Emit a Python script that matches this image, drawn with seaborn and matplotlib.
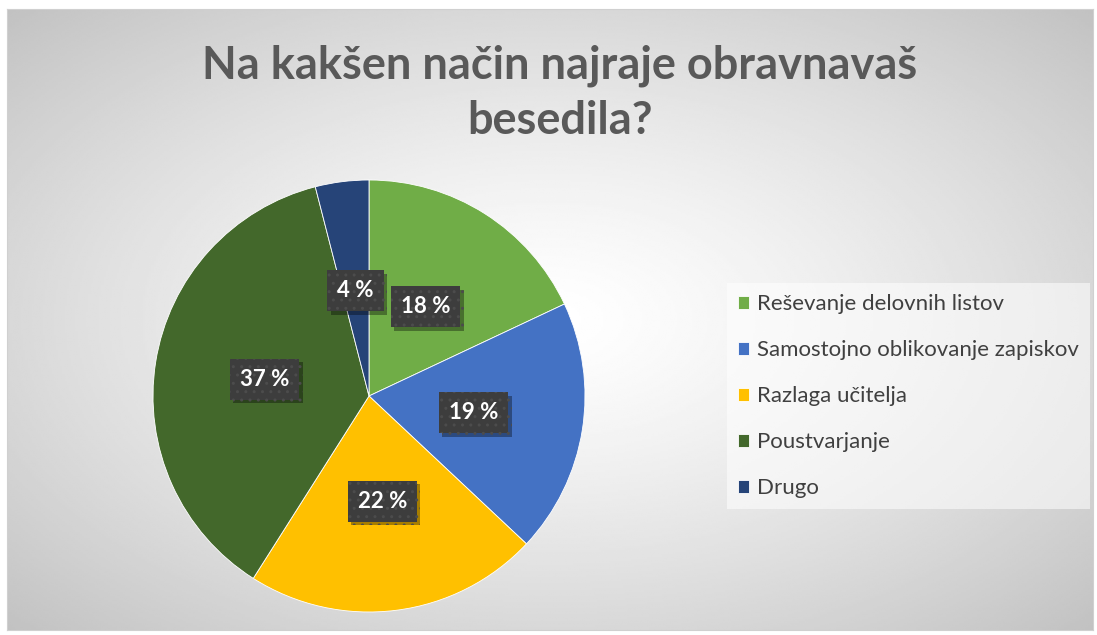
import numpy as np
import seaborn as sns
import matplotlib.pyplot as plt
import matplotlib.patheffects as pe

categories = ['Reševanje delovnih listov', 'Samostojno oblikovanje zapiskov',
              'Razlaga učitelja', 'Poustvarjanje', 'Drugo']
shares = [18, 19, 22, 37, 4]
slice_colors = ['#70AD47', '#4472C4', '#FFC000', '#43682B', '#264478']
title = 'Na kakšen način najraje obravnavaš\nbesedila?'

sns.set_theme(style='white')
plt.rcParams['font.family'] = ['Lato', 'DejaVu Sans']

W, H = 1097, 635
fig = plt.figure(figsize=(W / 100, H / 100), dpi=100)
fig.patch.set_facecolor('white')

# chart area with radial gradient
bg = fig.add_axes([7 / W, 5 / H, 1086 / W, 621 / H])
yy, xx = np.mgrid[0:1:300j, 0:1:500j]
d = np.sqrt(((xx - 0.5) / 0.5) ** 2 + ((yy - 0.5) / 0.5) ** 2) / np.sqrt(2)
shade = 1.0 - 0.24 * d ** 1.3
bg.imshow(shade, cmap='gray', vmin=0, vmax=1, aspect='auto',
          extent=[0, 1, 0, 1], interpolation='bilinear')
bg.set_xticks([])
bg.set_yticks([])
for s in bg.spines.values():
    s.set_color('#d0d0d0')
    s.set_linewidth(0.8)

# pie
cx, cy, r = 369, 396, 216
ax = fig.add_axes([(cx - r) / W, (H - cy - r) / H, 2 * r / W, 2 * r / H])
ax.set_facecolor('none')
palette = sns.color_palette(slice_colors)
wedges, texts, autotexts = ax.pie(
    shares, colors=palette, startangle=90, counterclock=False,
    autopct=lambda p: f'{p:.0f} %', pctdistance=0.49,
    wedgeprops=dict(edgecolor='white', linewidth=0.6),
    textprops=dict(color='white', fontsize=16, fontweight='bold'))
for t in autotexts:
    t.set_bbox(dict(boxstyle='square,pad=0.45', facecolor='#3d3d3d',
                    edgecolor='#4c4c4c', hatch='..', linewidth=0.0))
    t.get_bbox_patch().set_path_effects(
        [pe.SimplePatchShadow(offset=(2.5, -2.5), shadow_rgbFace='black', alpha=0.35),
         pe.Normal()])
    t.set_zorder(4)
ax.set_xlim(-1, 1)
ax.set_ylim(-1, 1)
ax.set_aspect('equal')

# title
fig.text(560 / W, 1 - 93 / H, title, ha='center', va='center',
         fontsize=32.5, fontweight='bold', color='#595959', linespacing=1.38)

# legend
leg = fig.legend(wedges, categories, loc='upper left',
                 bbox_to_anchor=(727 / W, 1 - 283 / H),
                 frameon=True, fancybox=False, fontsize=16,
                 handlelength=0.5, handleheight=0.5, handletextpad=0.36,
                 labelspacing=1.17, borderpad=0.5, borderaxespad=0)
leg.get_frame().set_facecolor('white')
leg.get_frame().set_alpha(0.55)
leg.get_frame().set_edgecolor('none')
for t in leg.get_texts():
    t.set_color('#404040')

fig.savefig('out.png', dpi=100)
